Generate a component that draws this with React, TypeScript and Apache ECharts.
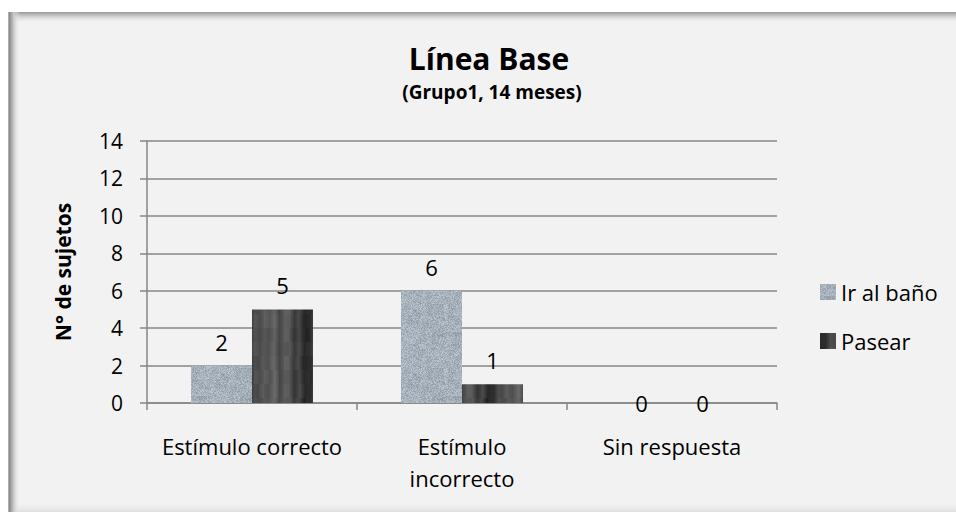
import React, { useEffect, useRef } from "react";
import * as echarts from "echarts";

const categories = ["Estímulo correcto", "Estímulo\nincorrecto", "Sin respuesta"];
const seriesNames = ["Ir al baño", "Pasear"];
const irAlBano = [2, 6, 0];
const pasear = [5, 1, 0];
const yTicks = { min: 0, max: 14, interval: 2 };
const titleText = "Línea Base";
const subtitleText = "(Grupo1, 14 meses)";
const yAxisName = "N° de sujetos";

const FONT = "'Open Sans', sans-serif";

function hash(x: number, y: number) {
  const s = Math.sin(x * 12.9898 + y * 78.233) * 43758.5453;
  return s - Math.floor(s);
}

function makeLightTexture() {
  const c = document.createElement("canvas");
  c.width = 64;
  c.height = 64;
  const ctx = c.getContext("2d")!;
  const img = ctx.createImageData(64, 64);
  for (let y = 0; y < 64; y++) {
    for (let x = 0; x < 64; x++) {
      const n = hash(x, y) - 0.5;
      const m = hash(Math.floor(x / 6), Math.floor(y / 6) + 100) - 0.5;
      const i = (y * 64 + x) * 4;
      img.data[i] = 166 + n * 40 + m * 12;
      img.data[i + 1] = 176 + n * 40 + m * 12;
      img.data[i + 2] = 186 + n * 40 + m * 12;
      img.data[i + 3] = 255;
    }
  }
  ctx.putImageData(img, 0, 0);
  return c;
}

function makeDarkTexture() {
  const c = document.createElement("canvas");
  c.width = 61;
  c.height = 150;
  const ctx = c.getContext("2d")!;
  const img = ctx.createImageData(61, 150);
  const colVal = (k: number) => hash(k, 7) - 0.5;
  for (let y = 0; y < 150; y++) {
    for (let x = 0; x < 61; x++) {
      const k = Math.floor(x / 5);
      const f = (x % 5) / 5;
      const col = colVal(k) * (1 - f) + colVal(k + 1) * f;
      const blk = hash(k, Math.floor(y / 14) + 50) - 0.5;
      const center = 1 - Math.abs(x - 30) / 30;
      const v = 52 + center * 42 + col * 35 + blk * 12;
      const i = (y * 61 + x) * 4;
      img.data[i] = v;
      img.data[i + 1] = v;
      img.data[i + 2] = v;
      img.data[i + 3] = 255;
    }
  }
  ctx.putImageData(img, 0, 0);
  return c;
}

function withZeroLabels(values: number[]) {
  return values.map((v) =>
    v === 0 ? { value: v, label: { position: "inside", color: "#000" } } : v
  );
}

export default function App() {
  const ref = useRef<HTMLDivElement>(null);
  useEffect(() => {
    if (!ref.current) return;
    const chart = echarts.init(ref.current, undefined, { renderer: "svg" });
    const light = { image: makeLightTexture(), repeat: "repeat" } as any;
    const dark = { image: makeDarkTexture(), repeat: "repeat" } as any;
    const labelCfg = {
      show: true,
      position: "top",
      distance: 13,
      color: "#000",
      fontSize: 22,
      fontFamily: FONT,
    };
    chart.setOption({
      animation: false,
      backgroundColor: "#ffffff",
      textStyle: { fontFamily: FONT },
      graphic: [
        {
          type: "rect",
          z: -10,
          silent: true,
          shape: { x: 8, y: 12, width: 960, height: 510 },
          style: { fill: "#f2f2f2" },
        },
        {
          type: "rect",
          z: -9,
          silent: true,
          shape: { x: 8, y: 12, width: 960, height: 11 },
          style: {
            fill: new echarts.graphic.LinearGradient(0, 0, 0, 1, [
              { offset: 0, color: "#9a9a9a" },
              { offset: 0.35, color: "#c8c8c8" },
              { offset: 1, color: "rgba(242,242,242,0)" },
            ]),
          },
        },
        {
          type: "rect",
          z: -8,
          silent: true,
          shape: { x: 8, y: 12, width: 12, height: 510 },
          style: {
            fill: new echarts.graphic.LinearGradient(0, 0, 1, 0, [
              { offset: 0, color: "#c0c0c0" },
              { offset: 0.12, color: "#8c8c8c" },
              { offset: 0.45, color: "#c4c4c4" },
              { offset: 1, color: "rgba(242,242,242,0)" },
            ]),
          },
        },
        {
          type: "rect",
          z: -9,
          silent: true,
          shape: { x: 8, y: 502, width: 960, height: 10 },
          style: {
            fill: new echarts.graphic.LinearGradient(0, 0, 0, 1, [
              { offset: 0, color: "rgba(242,242,242,0)" },
              { offset: 1, color: "#dedede" },
            ]),
          },
        },
      ],
      title: [
        {
          text: titleText,
          left: 484,
          textAlign: "center",
          top: 36,
          textStyle: { fontSize: 30, fontWeight: "bold", color: "#000", fontFamily: FONT, lineHeight: 34 },
        },
        {
          text: subtitleText,
          left: 487,
          textAlign: "center",
          top: 75,
          textStyle: { fontSize: 19, fontWeight: "bold", color: "#000", fontFamily: FONT, lineHeight: 24 },
        },
      ],
      legend: {
        orient: "vertical",
        left: 815,
        top: 275,
        itemWidth: 16,
        itemHeight: 16,
        itemGap: 25,
        icon: "rect",
        textStyle: { fontSize: 22, color: "#000", fontFamily: FONT, lineHeight: 24 },
        data: seriesNames,
      },
      grid: { left: 147, top: 141, width: 630, height: 262, containLabel: false },
      xAxis: {
        type: "category",
        data: categories,
        axisLine: { show: true, lineStyle: { color: "#868686", width: 1.5 } },
        axisTick: { show: true, length: 7, lineStyle: { color: "#868686", width: 1.5 } },
        axisLabel: {
          color: "#000",
          fontSize: 22,
          fontFamily: FONT,
          margin: 27,
          lineHeight: 32,
          interval: 0,
        },
      },
      yAxis: {
        type: "value",
        min: yTicks.min,
        max: yTicks.max,
        interval: yTicks.interval,
        name: yAxisName,
        nameLocation: "middle",
        nameGap: 74,
        nameRotate: 90,
        nameTextStyle: { fontSize: 21, fontWeight: "bold", color: "#000", fontFamily: FONT },
        axisLine: { show: true, lineStyle: { color: "#868686", width: 1.5 } },
        axisTick: { show: true, length: 7, lineStyle: { color: "#868686", width: 1.5 } },
        axisLabel: { color: "#000", fontSize: 21, fontFamily: FONT, margin: 24 },
        splitLine: { show: true, lineStyle: { color: "#868686", width: 1.5 } },
      },
      series: [
        {
          name: seriesNames[0],
          type: "bar",
          data: withZeroLabels(irAlBano),
          barWidth: 61,
          barGap: "0%",
          itemStyle: { color: light },
          label: labelCfg,
        },
        {
          name: seriesNames[1],
          type: "bar",
          data: withZeroLabels(pasear),
          barWidth: 61,
          barGap: "0%",
          itemStyle: { color: dark },
          label: labelCfg,
        },
      ],
    });
    return () => chart.dispose();
  }, []);
  return (
    <div
      ref={ref}
      style={{ position: "absolute", left: 0, top: 0, width: 956, height: 512 }}
    />
  );
}
